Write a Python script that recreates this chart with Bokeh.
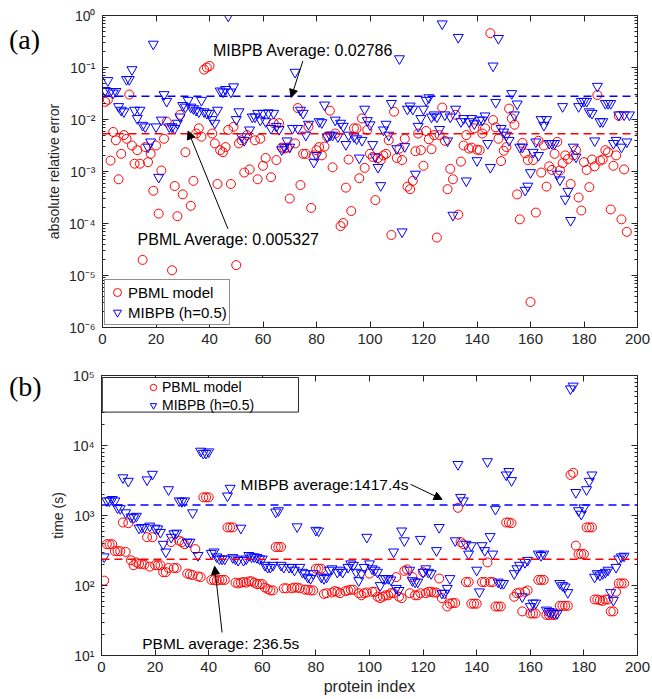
import math
from bokeh.plotting import figure
from bokeh.layouts import column, row
from bokeh.models import (Range1d, FixedTicker, LogAxis, LinearAxis, CustomJSTickFormatter,
                          Legend, LegendItem, Label, Arrow, NormalHead, Span, BoxAnnotation, Div)
from bokeh.embed import file_html
from bokeh.resources import INLINE

# ---------------- data (exponents are log10 values) ----------------
# (a) absolute relative error
a_pbml_idx = [*range(1, 25), *range(26, 32), *range(33, 56), *range(57, 62), *range(63, 71),
              *range(72, 88), *range(89, 144), *range(145, 197)]
a_pbml_exp = [-1.66, -1.62, -2.79, -2.24, -2.40, -3.15, -2.66, -2.30, -2.37, -1.52,
              -2.50, -2.85, -2.59, -2.85, -4.70, -2.53, -2.82, -2.66, -3.37, -2.50,
              -3.81, -2.98, -2.37, -2.04,
              -4.90, -3.28, -3.86, -1.91, -3.44, -2.63,
              -3.66, -3.18, -2.27, -2.17, -2.33, -1.04, -1.00, -0.97, -2.27, -2.46,
              -3.24, -2.59, -2.63, -2.53, -2.20, -3.24, -2.14, -4.80, -2.46, -2.40,
              -3.02, -2.30, -2.96,
              -2.40, -3.15, -2.37, -2.89, -2.74,
              -3.11, -2.07, -2.78, -2.07, -2.54, -2.56, -2.54, -3.52,
              -2.46, -1.78, -3.26, -2.66, -2.66, -2.14, -3.70, -2.69, -2.59, -2.53,
              -2.69, -2.52, -2.33, -1.83, -2.92, -2.27,
              -4.05, -3.99, -3.31, -2.77, -3.76, -2.17, -2.17, -3.13, -1.98, -2.93, -2.20, -2.66,
              -2.72, -3.55, -2.74, -2.78, -2.69, -2.66, -2.40, -4.22, -1.85, -2.74,
              -2.56, -2.78, -2.37, -3.29, -3.34, -3.18, -2.61, -2.27, -2.59, -2.89,
              -2.22, -2.38, -2.57, -2.30, -4.27, -2.30, -1.77, -2.41, -3.34, -2.95,
              -3.15, -1.91, -3.83, -2.81, -2.50, -2.30, -2.56, -2.54, -2.17, -2.58,
              -2.59, -2.27, -2.17,
              -0.34, -2.01, -2.15, -2.37, -2.80, -2.60,
              -2.53, -1.79, -1.98, -2.10, -3.44, -3.92, -2.45, -2.65, -2.78, -5.51,
              -2.78, -3.79, -2.41, -3.02, -2.50, -3.29, -2.90, -2.97, -2.66, -2.43,
              -2.98, -2.84, -2.69, -2.76, -3.24, -2.69, -2.59, -3.50, -3.75, -2.82,
              -2.97, -3.30, -2.77, -2.90, -1.53, -2.79, -2.77, -2.59, -2.63, -3.73,
              -2.89, -2.69, -1.93, -3.92, -2.96, -4.16]

a_mibpb_idx = [*range(1, 54), *range(55, 78), *range(79, 93), *range(94, 109), *range(110, 198)]
a_mibpb_exp = [-1.44, -1.25, -1.46, -1.49, -1.46, -1.75, -1.82, -1.85, -1.23, -1.23,
               -1.04, -1.82, -1.98, -1.82, -2.11, -2.14, -2.53, -2.43, -0.55, -2.14,
               -3.11, -2.01, -1.52, -1.65, -2.14, -2.14, -2.17, -2.07, -1.95, -1.73,
               -1.76, -1.63, -1.76, -1.79, -1.82, -1.85, -1.63, -1.85, -1.88, -1.88,
               -2.00, -2.07, -1.82, -1.45, -1.47, -1.42, -0.01, -1.47, -1.37, -2.00,
               -1.85, -2.33, -2.40,
               -2.20, -1.95, -1.95, -1.88, -2.01, -1.88,
               -2.04, -1.87, -2.17, -1.88, -2.13, -2.19, -2.58, -2.53, -2.41, -2.53,
               -2.17, -1.09, -2.17, -1.82, -1.88, -2.30, -2.09,
               -2.82, -2.69, -2.04, -2.06, -1.72, -2.33, -2.30, -2.30, -2.01, -2.33,
               -2.07, -2.13, -2.48, -2.30,
               -2.33, -2.37, -2.74, -2.40, -1.80, -2.02, -2.10,
               -2.48, -2.72, -2.92, -3.27, -2.20, -2.09, -2.30, -1.69,
               -2.56,
               -0.83, -4.16, -2.52, -1.80, -1.74, -1.80, -3.05, -2.13, -1.98, -1.80,
               -1.63, -1.58, -1.95, -1.91, -1.95, -2.19, -0.16, -1.91, -2.41, -1.95,
               -3.84, -1.80, -0.42, -2.04, -1.98, -3.18, -2.04, -1.98, -2.08, -2.79,
               -2.01, -2.01, -1.93, -2.46, -2.92, -0.97, -1.67, -0.44, -2.17, -2.24,
               -2.30, -2.40, -1.50, -1.91, -1.70, -2.53, -2.53, -3.36, -3.28, -3.02,
               -2.63, -2.43, -2.69, -2.00, -2.11, -2.00, -2.46, -2.46, -2.46, -3.05,
               -3.16, -1.75, -3.53, -3.38, -3.94, -2.53, -2.72, -1.75, -1.65, -1.65,
               -1.65, -1.85, -1.88, -2.41, -1.36, -2.04, -2.04, -1.69, -1.69, -1.69,
               -2.46, -2.40, -1.91, -2.53, -1.91, -2.43, -1.91]

# (b) time (s)
b_pbml_idx = [*range(1, 70), *range(71, 75), *range(76, 85), *range(86, 90), *range(91, 95),
              *range(96, 128), *range(129, 141), *range(142, 150), *range(151, 170), *range(171, 196)]
b_pbml_exp = [2.07, 2.59, 2.59, 2.59, 2.49, 2.49, 2.49, 2.90, 2.48, 2.89,
              2.36, 2.29, 2.33, 2.31, 2.31, 2.30, 2.69, 2.27, 2.69, 2.29,
              2.29, 2.29, 2.19, 2.19, 2.25, 2.62, 2.25, 2.25, 2.64, 2.62,
              2.59, 2.17, 2.16, 2.15, 2.52, 2.13, 2.12, 3.26, 3.26, 3.26,
              2.08, 2.08, 2.07, 2.08, 2.08, 2.08, 2.83, 2.83, 2.83, 2.04,
              2.03, 2.04, 2.05, 2.04, 2.06, 2.06, 2.04, 2.02, 2.02, 2.02,
              1.97, 1.95, 1.93, 1.93, 2.55, 2.55, 2.55, 1.96, 1.96,
              1.96, 1.97, 1.97, 1.96,
              1.94, 1.94, 1.93, 1.93, 2.24, 2.24, 2.24, 1.88, 1.89,
              1.90, 1.92, 1.91, 1.89,
              1.92, 1.93, 1.94, 1.94,
              1.89, 1.86, 1.89, 1.90, 2.17,
              1.91, 1.91, 1.84, 1.82, 1.84, 1.86, 1.86, 1.89, 1.89, 2.12,
              1.84, 1.82, 2.21, 2.23, 1.89, 2.12, 1.86, 1.86, 1.89, 2.19,
              1.89, 1.91, 1.91, 1.90, 1.90, 2.10, 1.82,
              1.70, 1.74, 1.75, 1.75, 3.11, 2.62, 2.59, 2.05, 2.05, 1.74, 1.74, 1.74,
              2.05, 2.05, 2.33, 2.05, 2.05, 1.70, 1.70, 1.70,
              2.90, 2.90, 2.89, 1.84, 1.89, 1.90, 1.63, 1.91, 1.93, 1.60,
              1.60, 1.60, 2.08, 2.08, 2.08, 1.58, 1.58, 1.58, 1.58,
              1.71, 1.71, 1.71, 1.71, 3.58, 3.61, 2.57, 2.45, 2.45, 2.45,
              2.83, 2.83, 2.83, 1.80, 1.80, 1.79, 1.78, 1.80, 1.80, 1.63,
              1.63, 1.91, 2.03, 2.03, 2.03]

b_mibpb_idx = [*range(1, 35), *range(36, 69), *range(70, 87), *range(88, 91), *range(92, 114),
               *range(115, 124), *range(125, 131), *range(132, 139), *range(140, 196)]
b_mibpb_exp = [2.41, 3.21, 3.21, 3.23, 3.21, 3.11, 3.10, 3.54, 3.04, 3.49,
               2.98, 2.97, 2.99, 2.82, 2.83, 2.83, 3.51, 2.85, 3.59, 2.82,
               2.81, 2.76, 2.59, 2.48, 3.37, 2.69, 2.74, 2.75, 3.21, 3.20,
               3.21, 2.62, 2.62, 3.04,
               2.43, 3.92, 3.89, 3.89, 3.91,
               2.46, 2.48, 2.41, 2.38, 2.38, 2.38, 3.28, 3.39, 2.40, 2.38,
               2.36, 2.82, 2.36, 2.38, 2.43, 2.41, 2.41, 2.40, 2.38, 2.38,
               2.29, 2.26, 2.26, 2.29, 3.05, 3.07, 2.29, 2.26,
               2.26, 2.26, 2.22, 2.84, 2.26, 2.19, 2.17, 2.12, 2.10, 2.17, 2.79,
               2.78, 2.12, 2.10, 2.12, 2.22, 2.24,
               2.19, 2.22, 2.19,
               2.26, 2.31, 2.29, 2.19, 2.07, 2.17, 2.26, 2.69, 2.31,
               2.24, 2.22, 2.19, 2.00, 2.10, 2.10, 2.10, 2.08, 2.48, 1.96,
               1.93, 2.78, 2.64,
               2.22, 2.07, 2.05, 2.05, 2.66, 2.19, 2.24, 2.19, 2.17,
               2.50, 2.83, 1.89, 1.89, 1.96, 2.10,
               2.64, 3.73, 3.26, 3.21, 2.59, 2.45, 2.57,
               2.22, 1.91, 2.57, 2.50, 3.77, 2.70, 2.45, 3.09, 2.05, 2.03, 2.03,
               3.58, 3.63, 3.50, 2.17, 2.24, 2.29, 1.84, 2.33, 2.36, 1.70,
               1.75, 1.75, 2.45, 2.43, 2.45, 1.65, 1.63, 1.62, 1.60, 1.60,
               2.03, 2.00, 1.98, 1.90, 4.81, 4.85, 3.33, 3.07, 3.02, 3.11,
               3.37, 3.49, 3.58, 2.12, 2.17, 2.15, 2.17, 2.19, 2.22, 1.90,
               1.79, 2.26, 2.38, 2.41, 2.42]

avg_err = {"PBML": 0.005327, "MIBPB": 0.02786}
avg_time = {"PBML": 236.5, "MIBPB": 1417.4}
x_ticks = [0, 20, 40, 60, 80, 100, 120, 140, 160, 180, 200]
series_names = ["PBML model", "MIBPB (h=0.5)"]

# ---------------- styling ----------------
RED = "#FF0000"
BLUE = "#0000FF"
AX = "#262626"
FONT = "Liberation Sans"
SIDE_W = 42          # width of the column holding "(a)" / "(b)"
FIG_W = 652 - SIDE_W


def vals(idx, exps):
    n = min(len(idx), len(exps))
    return list(idx[:n]), [10 ** e for e in exps[:n]]


SUP_JS = r"""
const sup = {"-":"\u207b","0":"\u2070","1":"\u00b9","2":"\u00b2","3":"\u00b3","4":"\u2074",
             "5":"\u2075","6":"\u2076","7":"\u2077","8":"\u2078","9":"\u2079"};
const e = Math.round(Math.log10(tick));
return "10" + String(e).split("").map(c => sup[c]).join("");
"""


def style_axis(ax, labels=True, size="15px"):
    ax.axis_line_color = AX
    ax.major_tick_line_color = AX
    ax.minor_tick_line_color = AX
    ax.major_tick_in = 6
    ax.major_tick_out = 0
    ax.minor_tick_in = 3
    ax.minor_tick_out = 0
    ax.major_label_text_font = FONT
    ax.major_label_text_font_size = size
    ax.major_label_text_color = AX
    ax.axis_label_text_font = FONT
    ax.axis_label_text_font_style = "normal"
    ax.axis_label_text_color = AX
    if not labels:
        ax.major_label_standoff = 0


def make_panel(height, top, bottom, ylo, yhi, ylabel, xlabel=None):
    p = figure(width=FIG_W, height=height, output_backend="svg", toolbar_location=None,
               y_axis_type="log", x_range=Range1d(0, 200), y_range=Range1d(ylo, yhi),
               min_border_left=101 - SIDE_W, min_border_right=15, min_border_top=top,
               min_border_bottom=bottom, background_fill_color="white",
               border_fill_color="white", outline_line_color=AX, margin=0)
    p.xgrid.visible = False
    p.ygrid.visible = False
    e0, e1 = int(round(math.log10(ylo))), int(round(math.log10(yhi)))
    majors = [10.0 ** k for k in range(e0, e1 + 1)]
    minors = [m * 10.0 ** k for k in range(e0, e1) for m in range(2, 10)]
    yt = FixedTicker(ticks=majors, minor_ticks=minors)
    xt = FixedTicker(ticks=x_ticks)
    p.xaxis.ticker = xt
    p.yaxis.ticker = yt
    p.yaxis.formatter = CustomJSTickFormatter(code=SUP_JS)
    style_axis(p.xaxis[0])
    style_axis(p.yaxis[0], size="14px")
    p.xaxis.major_label_standoff = 6
    p.yaxis.major_label_standoff = 7
    p.yaxis.axis_label = ylabel
    p.yaxis.axis_label_text_font_size = "14px"
    p.yaxis.axis_label_standoff = 4
    if xlabel:
        p.xaxis.axis_label = xlabel
        p.xaxis.axis_label_text_font_size = "16px"
        p.xaxis.axis_label_standoff = 3
    blank = CustomJSTickFormatter(code="return ''")
    top_ax = LinearAxis(ticker=xt, formatter=blank)
    style_axis(top_ax, labels=False)
    right_ax = LogAxis(ticker=yt, formatter=blank)
    style_axis(right_ax, labels=False)
    p.add_layout(top_ax, "above")
    p.add_layout(right_ax, "right")
    return p


def side_label(text, height, pad_top):
    html = ('<div style="font-family:\'Liberation Serif\',serif;font-size:28px;line-height:32px;'
            'color:black;padding:%dpx 0 0 9px;">%s</div>' % (pad_top, text))
    return Div(text=html, width=SIDE_W, height=height, margin=0)


def add_series(p, xi, yv, marker, color, size):
    return p.scatter(xi, yv, marker=marker, size=size, fill_color=None,
                     line_color=color, line_width=1)


def add_text(p, x, y, text, size="15.5px", align="left"):
    p.add_layout(Label(x=x, y=y, text=text, text_font=FONT, text_font_size=size,
                       text_baseline="middle", text_align=align, text_color="black"))


def add_arrow(p, x0, y0, x1, y1):
    p.add_layout(Arrow(end=NormalHead(size=8, fill_color="black", line_color="black", line_width=1),
                       x_start=x0, y_start=y0, x_end=x1, y_end=y1,
                       line_color="black", line_width=1))


# ---------------- panel (a) ----------------
pa = make_panel(352, 15, 25, 1e-6, 1.0, "absolute relative error")
xa1, ya1 = vals(a_pbml_idx, a_pbml_exp)
xa2, ya2 = vals(a_mibpb_idx, a_mibpb_exp)
ra1 = add_series(pa, xa1, ya1, "circle", RED, 9)
ra2 = add_series(pa, xa2, ya2, "inverted_triangle", BLUE, 10)
pa.add_layout(Span(location=avg_err["MIBPB"], dimension="width", line_color=BLUE,
                   line_dash="8 5", line_width=1.5))
pa.add_layout(Span(location=avg_err["PBML"], dimension="width", line_color=RED,
                   line_dash="8 5", line_width=1.5))
add_text(pa, 41.3, 0.209, "MIBPB Average: 0.02786", size="16px")
add_arrow(pa, 74.9, 0.133, 70.5, 0.0265)
add_text(pa, 13.1, 4.86e-5, "PBML Average: 0.005327", size="16px")
add_arrow(pa, 46.9, 7.9e-5, 32.0, 6.0e-3)
leg_a = Legend(items=[LegendItem(label=series_names[0], renderers=[ra1]),
                      LegendItem(label=series_names[1], renderers=[ra2])],
               location="bottom_left", margin=2, padding=2, spacing=0,
               glyph_width=20, glyph_height=20, label_standoff=1, label_height=20,
               label_text_font=FONT, label_text_font_size="15px", label_text_color="black",
               border_line_color=AX, border_line_width=1, background_fill_color="white",
               background_fill_alpha=1.0)
pa.add_layout(leg_a)

# ---------------- panel (b) ----------------
pb = make_panel(347, 23, 44, 10.0, 1e5, "time (s)", xlabel="protein index")
xb1, yb1 = vals(b_pbml_idx, b_pbml_exp)
xb2, yb2 = vals(b_mibpb_idx, b_mibpb_exp)
rb1 = add_series(pb, xb1, yb1, "circle", RED, 9)
rb2 = add_series(pb, xb2, yb2, "inverted_triangle", BLUE, 10)
pb.add_layout(Span(location=avg_time["MIBPB"], dimension="width", line_color=BLUE,
                   line_dash="8 5", line_width=1.5))
pb.add_layout(Span(location=avg_time["PBML"], dimension="width", line_color=RED,
                   line_dash="8 5", line_width=1.5))
add_text(pb, 51.9, 2790, "MIBPB average:1417.4s", size="15.5px")
add_arrow(pb, 115.3, 2790, 127.1, 1700)
add_text(pb, 15.2, 14.6, "PBML average: 236.5s", size="15.5px")
add_arrow(pb, 45.0, 21.3, 42.2, 188)
# legend frame of panel (b) (wide box, markers set in from its left edge)
pb.add_layout(BoxAnnotation(left=0.3, right=73.5, top=93700, bottom=30000,
                            fill_color="white", fill_alpha=1.0, line_color=AX,
                            line_width=1, line_alpha=1.0))
leg_b = Legend(items=[LegendItem(label=series_names[0], renderers=[rb1]),
                      LegendItem(label=series_names[1], renderers=[rb2])],
               location=(43, 240), padding=1, spacing=0,
               glyph_width=16, glyph_height=18, label_standoff=1, label_height=16,
               label_text_font=FONT, label_text_font_size="14px", label_text_color="black",
               border_line_alpha=0, background_fill_alpha=0)
pb.add_layout(leg_b)

layout = column(row(side_label("(a)", 352, 24), pa, spacing=0),
                row(side_label("(b)", 347, 19), pb, spacing=0),
                spacing=0)
open("out.html", "w").write(file_html(layout, INLINE))
